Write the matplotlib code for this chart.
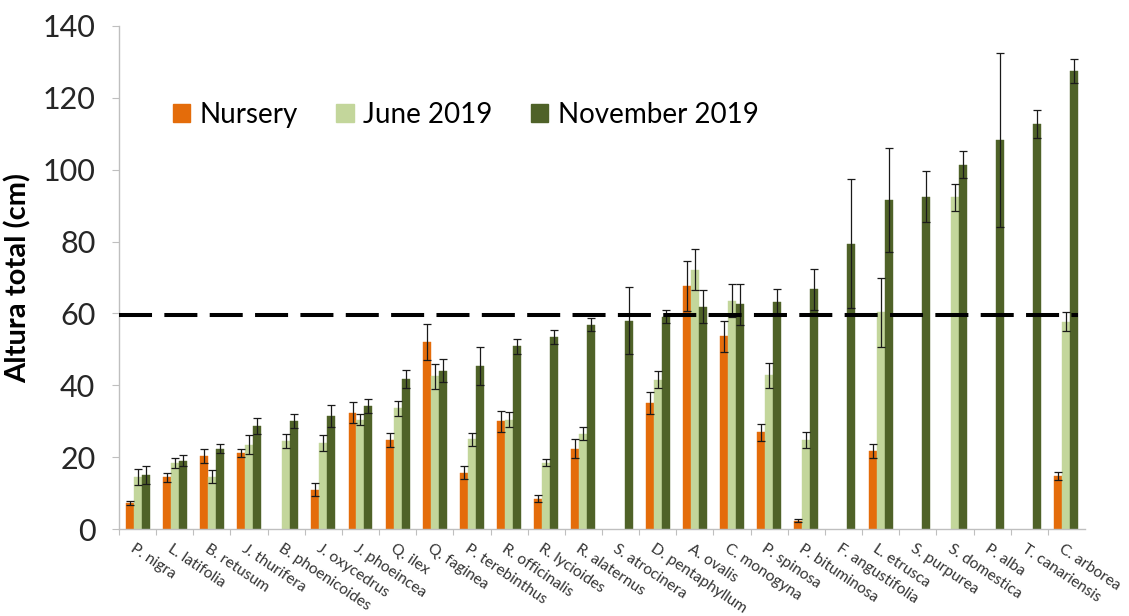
import numpy as np
import matplotlib
matplotlib.use("Agg")
import matplotlib.pyplot as plt
import matplotlib.transforms as mtransforms
from matplotlib.patches import Patch

plt.rcParams['font.family'] = ['Lato', 'DejaVu Sans']

species = ["P. nigra", "L. latifolia", "B. retusum", "J. thurifera", "B. phoenicoides",
           "J. oxycedrus", "J. phoeincea", "Q. ilex", "Q. faginea", "P. terebinthus",
           "R. officinalis", "R. lycioides", "R. alaternus", "S. atrocinera", "D. pentaphyllum",
           "A. ovalis", "C. monogyna", "P. spinosa", "P. bituminosa", "F. angustifolia",
           "L. etrusca", "S. purpurea", "S. domestica", "P. alba", "T. canariensis", "C. arborea"]
nan = np.nan
nursery = [7.3, 14.4, 20.4, 21.2, nan, 11.0, 32.4, 24.8, 52.1, 15.7, 30.0, 8.5, 22.4, nan,
           35.1, 67.7, 53.7, 26.9, 2.3, nan, 21.7, nan, nan, nan, nan, 14.7]
nursery_err = [0.5, 1.3, 1.9, 1.1, nan, 1.9, 3.0, 2.0, 5.1, 1.8, 2.9, 1.0, 2.6, nan,
               3.1, 7.0, 4.3, 2.3, 0.4, nan, 1.9, nan, nan, nan, nan, 1.1]
june = [14.6, 18.5, 14.6, 23.5, 24.5, 24.0, 30.5, 33.6, 42.5, 25.0, 30.5, 18.5, 26.6, nan,
        41.6, 72.1, 63.5, 42.8, 24.8, nan, 60.4, nan, 92.3, nan, nan, 57.7]
june_err = [2.2, 1.4, 1.8, 2.7, 2.0, 2.2, 1.5, 2.0, 3.5, 1.8, 2.0, 0.9, 1.9, nan,
            2.4, 5.7, 4.6, 3.5, 2.3, nan, 9.6, nan, 3.7, nan, nan, 2.6]
november = [15.0, 19.0, 22.4, 28.7, 30.0, 31.4, 34.3, 41.9, 44.0, 45.4, 50.9, 53.5, 56.8, 58.0,
            59.1, 61.9, 62.5, 63.2, 66.7, 79.4, 91.6, 92.5, 101.4, 108.2, 112.7, 127.5]
november_err = [2.5, 1.5, 1.2, 2.1, 1.9, 3.1, 1.9, 2.5, 3.2, 5.2, 2.1, 1.9, 1.8, 9.3,
                1.8, 4.6, 5.6, 3.6, 5.6, 17.9, 14.5, 7.0, 3.7, 24.2, 3.8, 3.3]
series_names = ["Nursery", "June 2019", "November 2019"]
colors = ["#E46C0A", "#C3D69B", "#4F6228"]
threshold = 59.5
yticks = [0, 20, 40, 60, 80, 100, 120, 140]

fig = plt.figure(figsize=(11.29, 6.16), dpi=100)
ax = fig.add_axes([0.1054, 0.141, 0.8556, 0.817])

x = np.arange(len(species))
w = 0.215
data = [(nursery, nursery_err), (june, june_err), (november, november_err)]
for k, ((vals, errs), c) in enumerate(zip(data, colors)):
    pos = x + (k - 1) * w
    v = np.array(vals, dtype=float)
    e = np.array(errs, dtype=float)
    m = ~np.isnan(v)
    ax.bar(pos[m], v[m], width=w, color=c, edgecolor=c, linewidth=0.3, zorder=2)
    ax.errorbar(pos[m], v[m], yerr=e[m], fmt='none', ecolor='#1a1a1a', elinewidth=0.9,
                capsize=3, capthick=0.9, zorder=3)

ax.plot([-0.5, 25.32], [threshold, threshold], color='black', lw=2.9,
        dashes=(8.2, 3.06), zorder=4, solid_capstyle='butt', dash_capstyle='butt')

ax.set_xlim(-0.5, 25.5)
ax.set_ylim(0, 140)
ax.set_yticks(yticks)
ax.set_yticklabels([str(t) for t in yticks], fontsize=22, color='#262626')
ax.set_xticks(x - 0.5, minor=False)
ax.set_xticklabels([])
ax.set_xticks(x, minor=True)
ax.set_xticklabels(species, minor=True, rotation=-34, ha='left', va='top',
                   rotation_mode='anchor', fontsize=11.2, color='#333333')
ax.tick_params(axis='x', which='minor', length=0, pad=9)
ax.tick_params(axis='x', which='major', length=4, color='#BFBFBF', direction='out')
ax.tick_params(axis='y', length=5, color='#BFBFBF', pad=12)
offset = mtransforms.ScaledTranslation(-2 / 100, 0, fig.dpi_scale_trans)
for lab in ax.get_xticklabels(minor=True):
    lab.set_transform(lab.get_transform() + offset)

for s in ['top', 'right']:
    ax.spines[s].set_visible(False)
ax.spines['left'].set_color('#BFBFBF')
ax.spines['bottom'].set_color('#BFBFBF')
ax.spines['left'].set_linewidth(1)
ax.spines['bottom'].set_linewidth(1)

ax.set_ylabel("Altura total (cm)", fontsize=21, fontweight='bold', labelpad=8)

handles = [Patch(facecolor=c, edgecolor=c) for c in colors]
fig.legend(handles, series_names, loc='center left', bbox_to_anchor=(0.1532, 0.813),
           ncol=3, frameon=False, fontsize=20, handlelength=0.62, handleheight=0.62,
           handletextpad=0.33, columnspacing=1.4, borderpad=0, borderaxespad=0)

fig.savefig("out.png", dpi=100)
